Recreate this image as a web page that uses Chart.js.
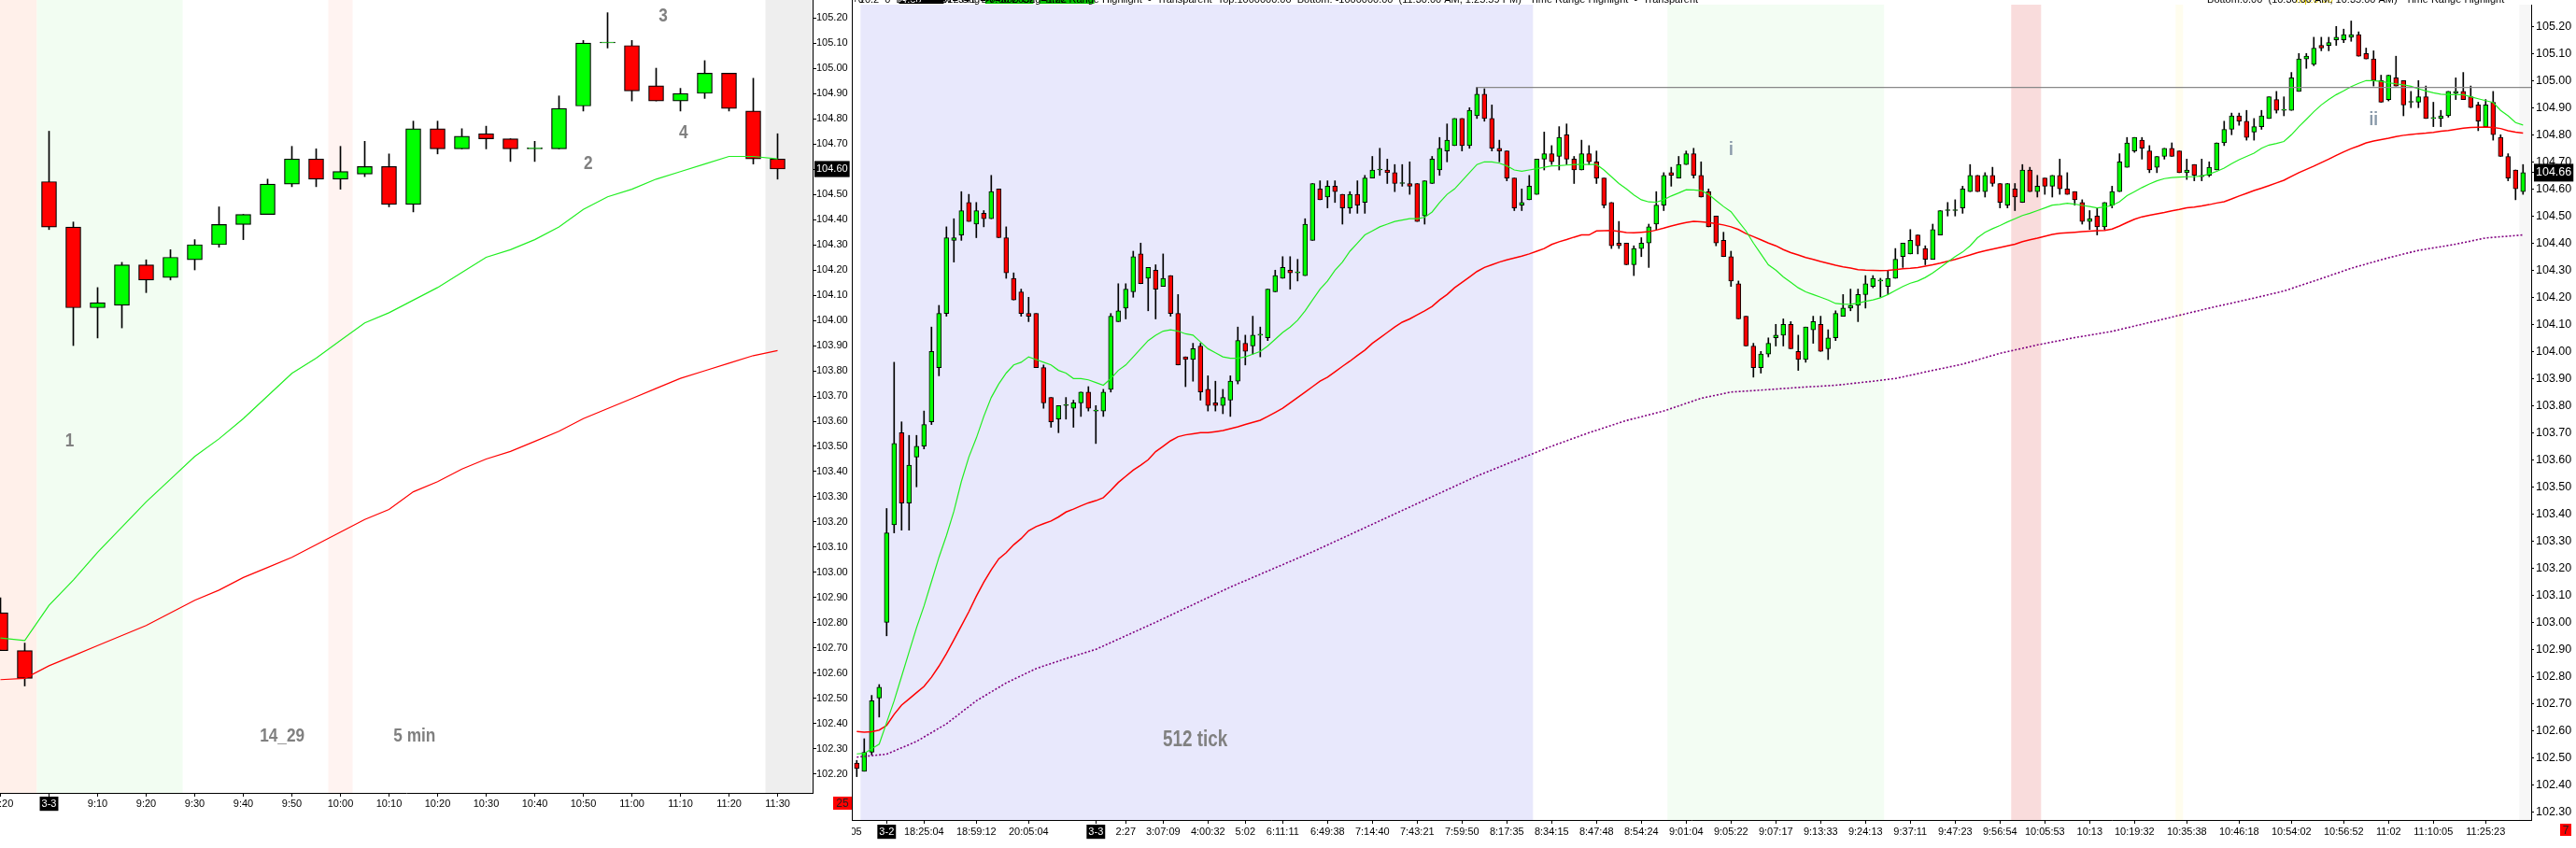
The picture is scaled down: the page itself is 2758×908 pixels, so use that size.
<!DOCTYPE html>
<html>
<head>
<meta charset="utf-8">
<title>5 min / 512 tick</title>
<script src="https://cdn.jsdelivr.net/npm/chart.js@4.4.1/dist/chart.umd.min.js"></script>
<style>
  html, body { margin: 0; padding: 0; background: #fff; overflow: hidden; }
  #wrap { position: relative; width: 2758px; height: 908px; }
  #leftBox { position: absolute; left: 0; top: 0; width: 912px; height: 908px; }
  #rightBox { position: absolute; left: 912px; top: 0; width: 1846px; height: 908px; background: #fff; }
</style>
</head>
<body>
<div id="wrap">
  <div id="leftBox"><canvas id="leftChart"></canvas></div>
  <div id="rightBox"><canvas id="rightChart"></canvas></div>
</div>
<script>
// ---------------- 5 min panel (left) ----------------
const leftOpen  = [102.84, 102.69, 104.55, 104.37, 104.05, 104.06, 104.22, 104.17, 104.24, 104.30, 104.38,
                   104.42, 104.54, 104.64, 104.56, 104.58, 104.61, 104.46, 104.76, 104.68, 104.74, 104.72,
                   104.68, 104.68, 104.85, 105.10, 105.09, 104.93, 104.87, 104.90, 104.98, 104.83, 104.64];
const leftHigh  = [102.90, 102.72, 104.75, 104.39, 104.13, 104.23, 104.24, 104.28, 104.32, 104.45, 104.42,
                   104.56, 104.69, 104.68, 104.69, 104.71, 104.66, 104.79, 104.79, 104.76, 104.77, 104.72,
                   104.71, 104.89, 105.11, 105.22, 105.11, 105.00, 104.92, 105.03, 104.98, 104.96, 104.74];
const leftLow   = [102.69, 102.55, 104.36, 103.90, 103.93, 103.97, 104.11, 104.16, 104.20, 104.29, 104.32,
                   104.42, 104.53, 104.53, 104.52, 104.57, 104.45, 104.43, 104.66, 104.68, 104.68, 104.63,
                   104.63, 104.68, 104.83, 105.08, 104.87, 104.87, 104.83, 104.88, 104.83, 104.62, 104.56];
const leftClose = [102.69, 102.58, 104.37, 104.05, 104.07, 104.22, 104.16, 104.25, 104.30, 104.38, 104.42,
                   104.54, 104.64, 104.56, 104.59, 104.61, 104.46, 104.76, 104.68, 104.73, 104.72, 104.68,
                   104.68, 104.84, 105.10, 105.10, 104.91, 104.87, 104.90, 104.98, 104.84, 104.64, 104.60];
const leftEmaFast = [102.74, 102.73, 102.87, 102.97, 103.08, 103.18, 103.28, 103.37, 103.46, 103.53, 103.61,
                     103.70, 103.79, 103.85, 103.92, 103.99, 104.03, 104.08, 104.13, 104.19, 104.25, 104.28,
                     104.32, 104.37, 104.44, 104.49, 104.52, 104.56, 104.59, 104.62, 104.65, 104.65, 104.64];
const leftEmaSlow = [102.575, 102.58, 102.63, 102.67, 102.71, 102.75, 102.79, 102.84, 102.89, 102.93, 102.98,
                     103.02, 103.06, 103.11, 103.16, 103.21, 103.25, 103.32, 103.36, 103.41, 103.45, 103.48,
                     103.52, 103.56, 103.61, 103.65, 103.69, 103.73, 103.77, 103.80, 103.83, 103.86, 103.88];
const leftTickBars   = [0, 2, 4, 6, 8, 10, 12, 14, 16, 18, 20, 22, 24, 26, 28, 30, 32];
const leftTickLabels = ['16:20', '3-3', '9:10', '9:20', '9:30', '9:40', '9:50', '10:00', '10:10',
                        '10:20', '10:30', '10:40', '10:50', '11:00', '11:10', '11:20', '11:30'];
const leftPriceTicks = [102.2, 102.3, 102.4, 102.5, 102.6, 102.7, 102.8, 102.9, 103.0, 103.1, 103.2,
                        103.3, 103.4, 103.5, 103.6, 103.7, 103.8, 103.9, 104.0, 104.1, 104.2, 104.3,
                        104.4, 104.5, 104.6, 104.7, 104.8, 104.9, 105.0, 105.1, 105.2];
const leftLast = 104.60;

// ---------------- 512 tick panel (right) ----------------
const rOpen = [
  102.48, 102.45, 102.52, 102.72, 103.00, 103.36, 103.70, 103.44, 103.61, 103.65,
  103.74, 103.94, 104.14, 104.41, 104.43, 104.55, 104.47, 104.51, 104.49, 104.60,
  104.42, 104.27, 104.22, 104.14, 104.14, 103.94, 103.83, 103.75, 103.80, 103.79,
  103.81, 103.85, 103.78, 103.78, 103.86, 104.11, 104.16, 104.22, 104.36, 104.27,
  104.30, 104.24, 104.28, 104.14, 103.98, 103.97, 104.02, 103.86, 103.81, 103.80,
  103.82, 103.89, 104.03, 104.02, 104.06, 104.05, 104.22, 104.27, 104.30, 104.29,
  104.28, 104.41, 104.60, 104.57, 104.61, 104.58, 104.53, 104.58, 104.55, 104.64,
  104.67, 104.67, 104.66, 104.62, 104.62, 104.62, 104.50, 104.62, 104.67, 104.74,
  104.76, 104.86, 104.76, 104.87, 104.95, 104.86, 104.75, 104.74, 104.64, 104.54,
  104.56, 104.58, 104.71, 104.73, 104.72, 104.80, 104.71, 104.67, 104.73, 104.70,
  104.64, 104.55, 104.40, 104.40, 104.32, 104.38, 104.40, 104.47, 104.54, 104.66,
  104.64, 104.69, 104.73, 104.65, 104.59, 104.50, 104.41, 104.35, 104.25, 104.13,
  104.02, 103.94, 103.99, 104.05, 104.06, 104.10, 104.00, 103.97, 104.08, 104.10,
  104.01, 104.05, 104.13, 104.16, 104.17, 104.21, 104.24, 104.26, 104.24, 104.27,
  104.35, 104.36, 104.43, 104.38, 104.34, 104.43, 104.52, 104.52, 104.53, 104.59,
  104.65, 104.59, 104.65, 104.62, 104.54, 104.60, 104.55, 104.67, 104.59, 104.64,
  104.61, 104.65, 104.60, 104.59, 104.55, 104.48, 104.50, 104.46, 104.54, 104.59,
  104.68, 104.74, 104.78, 104.74, 104.68, 104.72, 104.75, 104.74, 104.66, 104.69,
  104.645, 104.65, 104.67, 104.77, 104.82, 104.87, 104.85, 104.81, 104.83, 104.86,
  104.93, 104.89, 104.89, 104.96, 105.08, 105.06, 105.13, 105.13, 105.15, 105.15,
  105.16, 105.17, 105.10, 105.08, 105.00, 104.93, 105.01, 105.00, 104.92, 104.92,
  104.94, 104.86, 104.86, 104.87, 104.953, 104.96, 104.94, 104.91, 104.83, 104.92,
  104.79, 104.72, 104.67, 104.59];
const rHigh = [
  102.49, 102.57, 102.73, 102.77, 103.42, 103.96, 103.74, 103.69, 103.69, 103.78,
  104.09, 104.17, 104.46, 104.49, 104.59, 104.58, 104.55, 104.52, 104.65, 104.60,
  104.46, 104.29, 104.23, 104.20, 104.14, 103.95, 103.83, 103.80, 103.83, 103.82,
  103.85, 103.87, 103.80, 103.86, 104.14, 104.25, 104.25, 104.37, 104.40, 104.31,
  104.32, 104.36, 104.28, 104.21, 103.98, 104.03, 104.03, 103.91, 103.89, 103.86,
  103.91, 104.09, 104.06, 104.13, 104.09, 104.23, 104.30, 104.35, 104.35, 104.34,
  104.49, 104.62, 104.63, 104.63, 104.63, 104.58, 104.59, 104.63, 104.65, 104.72,
  104.75, 104.71, 104.69, 104.69, 104.70, 104.62, 104.63, 104.72, 104.79, 104.84,
  104.86, 104.86, 104.90, 104.975, 104.97, 104.91, 104.78, 104.74, 104.64, 104.60,
  104.65, 104.71, 104.81, 104.76, 104.83, 104.84, 104.72, 104.78, 104.76, 104.74,
  104.64, 104.55, 104.48, 104.40, 104.39, 104.42, 104.47, 104.59, 104.66, 104.68,
  104.72, 104.74, 104.75, 104.70, 104.60, 104.50, 104.44, 104.37, 104.26, 104.13,
  104.03, 104.00, 104.05, 104.10, 104.12, 104.11, 104.06, 104.09, 104.13, 104.13,
  104.08, 104.15, 104.21, 104.23, 104.23, 104.28, 104.28, 104.27, 104.30, 104.38,
  104.40, 104.45, 104.43, 104.39, 104.47, 104.52, 104.55, 104.56, 104.61, 104.69,
  104.65, 104.66, 104.68, 104.62, 104.62, 104.62, 104.69, 104.68, 104.65, 104.64,
  104.65, 104.71, 104.66, 104.59, 104.56, 104.52, 104.53, 104.55, 104.61, 104.73,
  104.79, 104.79, 104.79, 104.76, 104.72, 104.75, 104.77, 104.74, 104.71, 104.69,
  104.71, 104.70, 104.77, 104.85, 104.88, 104.88, 104.89, 104.86, 104.89, 104.94,
  104.96, 104.94, 105.03, 105.10, 105.10, 105.16, 105.16, 105.16, 105.20, 105.19,
  105.22, 105.18, 105.12, 105.11, 105.02, 105.02, 105.09, 105.00, 104.96, 105.00,
  104.98, 104.92, 104.89, 104.96, 105.01, 105.03, 104.98, 104.92, 104.93, 104.96,
  104.80, 104.73, 104.67, 104.69];
const rLow = [
  102.43, 102.45, 102.51, 102.65, 102.95, 103.33, 103.34, 103.34, 103.50, 103.64,
  103.73, 103.91, 104.13, 104.33, 104.41, 104.48, 104.42, 104.46, 104.49, 104.42,
  104.27, 104.19, 104.13, 104.11, 103.94, 103.79, 103.72, 103.70, 103.75, 103.72,
  103.76, 103.78, 103.66, 103.76, 103.85, 104.11, 104.12, 104.20, 104.25, 104.15,
  104.12, 104.24, 104.13, 103.95, 103.87, 103.89, 103.82, 103.78, 103.78, 103.77,
  103.76, 103.88, 103.95, 103.99, 103.98, 104.04, 104.22, 104.27, 104.23, 104.26,
  104.28, 104.41, 104.56, 104.53, 104.55, 104.47, 104.51, 104.51, 104.51, 104.64,
  104.65, 104.62, 104.59, 104.61, 104.58, 104.48, 104.47, 104.62, 104.65, 104.70,
  104.76, 104.74, 104.75, 104.86, 104.85, 104.74, 104.70, 104.63, 104.52, 104.52,
  104.56, 104.58, 104.67, 104.69, 104.67, 104.69, 104.62, 104.67, 104.69, 104.62,
  104.53, 104.38, 104.38, 104.32, 104.28, 104.35, 104.31, 104.45, 104.52, 104.61,
  104.64, 104.69, 104.64, 104.57, 104.46, 104.39, 104.35, 104.24, 104.12, 104.02,
  103.905, 103.92, 103.98, 104.02, 104.02, 104.01, 103.93, 103.96, 104.03, 104.00,
  103.97, 104.04, 104.13, 104.15, 104.11, 104.16, 104.235, 104.20, 104.21, 104.27,
  104.31, 104.36, 104.36, 104.32, 104.34, 104.43, 104.50, 104.50, 104.51, 104.59,
  104.59, 104.57, 104.61, 104.53, 104.53, 104.52, 104.55, 104.59, 104.57, 104.58,
  104.57, 104.58, 104.58, 104.54, 104.47, 104.45, 104.43, 104.45, 104.53, 104.59,
  104.68, 104.735, 104.71, 104.66, 104.66, 104.71, 104.72, 104.66, 104.635, 104.63,
  104.63, 104.645, 104.67, 104.76, 104.80, 104.835, 104.78, 104.78, 104.82, 104.86,
  104.88, 104.87, 104.89, 104.96, 105.045, 105.055, 105.11, 105.11, 105.13, 105.14,
  105.145, 105.09, 105.08, 104.98, 104.92, 104.925, 104.98, 104.87, 104.90, 104.90,
  104.86, 104.83, 104.83, 104.865, 104.93, 104.93, 104.90, 104.815, 104.83, 104.78,
  104.72, 104.63, 104.56, 104.58];
const rClose = [
  102.46, 102.52, 102.71, 102.76, 103.33, 103.66, 103.44, 103.58, 103.65, 103.73,
  104.00, 104.14, 104.42, 104.42, 104.52, 104.48, 104.52, 104.49, 104.59, 104.42,
  104.29, 104.19, 104.14, 104.13, 103.94, 103.81, 103.74, 103.80, 103.80, 103.81,
  103.85, 103.79, 103.78, 103.85, 104.13, 104.15, 104.23, 104.35, 104.25, 104.31,
  104.23, 104.27, 104.14, 103.95, 103.97, 104.01, 103.85, 103.80, 103.80, 103.83,
  103.89, 104.04, 104.00, 104.06, 104.06, 104.23, 104.28, 104.31, 104.29, 104.29,
  104.47, 104.62, 104.56, 104.61, 104.59, 104.53, 104.58, 104.54, 104.64, 104.67,
  104.67, 104.66, 104.62, 104.62, 104.61, 104.48, 104.63, 104.71, 104.75, 104.78,
  104.86, 104.76, 104.89, 104.95, 104.86, 104.75, 104.74, 104.64, 104.53, 104.55,
  104.61, 104.71, 104.73, 104.70, 104.79, 104.71, 104.67, 104.73, 104.70, 104.64,
  104.54, 104.39, 104.39, 104.32, 104.38, 104.40, 104.46, 104.54, 104.65, 104.65,
  104.69, 104.73, 104.65, 104.57, 104.46, 104.40, 104.35, 104.26, 104.12, 104.02,
  103.94, 103.99, 104.03, 104.06, 104.10, 104.01, 103.97, 104.09, 104.11, 104.00,
  104.05, 104.14, 104.16, 104.17, 104.21, 104.25, 104.27, 104.26, 104.27, 104.34,
  104.40, 104.41, 104.39, 104.34, 104.45, 104.52, 104.52, 104.52, 104.60, 104.65,
  104.59, 104.65, 104.62, 104.55, 104.62, 104.57, 104.67, 104.59, 104.61, 104.61,
  104.65, 104.60, 104.58, 104.56, 104.48, 104.49, 104.46, 104.55, 104.59, 104.70,
  104.77, 104.79, 104.75, 104.67, 104.72, 104.75, 104.72, 104.66, 104.67, 104.65,
  104.65, 104.68, 104.77, 104.82, 104.87, 104.85, 104.79, 104.83, 104.87, 104.94,
  104.89, 104.89, 105.01, 105.08, 105.09, 105.12, 105.12, 105.14, 105.16, 105.17,
  105.17, 105.09, 105.08, 105.00, 104.92, 105.02, 104.98, 104.91, 104.92, 104.94,
  104.86, 104.86, 104.87, 104.96, 104.96, 104.93, 104.90, 104.85, 104.91, 104.80,
  104.72, 104.64, 104.60, 104.66];
const rEmaFast = [
  102.514, 102.516, 102.533, 102.55, 102.63, 102.71, 102.80, 102.89, 102.98, 103.06,
  103.15, 103.24, 103.32, 103.41, 103.52, 103.61, 103.68, 103.76, 103.83, 103.88,
  103.92, 103.95, 103.96, 103.98, 103.97, 103.96, 103.95, 103.93, 103.92, 103.90,
  103.90, 103.895, 103.885, 103.875, 103.90, 103.93, 103.95, 103.98, 104.01, 104.04,
  104.06, 104.075, 104.08, 104.075, 104.065, 104.06, 104.035, 104.01, 103.995, 103.98,
  103.975, 103.975, 103.98, 103.99, 104.00, 104.02, 104.045, 104.07, 104.09, 104.115,
  104.15, 104.19, 104.23, 104.26, 104.30, 104.33, 104.37, 104.40, 104.43, 104.445,
  104.46, 104.47, 104.48, 104.485, 104.49, 104.49, 104.495, 104.515, 104.55, 104.58,
  104.60, 104.63, 104.66, 104.69, 104.70, 104.70, 104.695, 104.685, 104.67, 104.665,
  104.67, 104.675, 104.68, 104.685, 104.686, 104.688, 104.69, 104.69, 104.69, 104.69,
  104.67, 104.645, 104.62, 104.60, 104.578, 104.56, 104.552, 104.551, 104.56, 104.574,
  104.585, 104.597, 104.596, 104.594, 104.58, 104.557, 104.535, 104.516, 104.48, 104.445,
  104.40, 104.36, 104.32, 104.30, 104.275, 104.255, 104.235, 104.22, 104.21, 104.20,
  104.19, 104.177, 104.175, 104.174, 104.178, 104.185, 104.19, 104.198, 104.21, 104.225,
  104.24, 104.252, 104.26, 104.273, 104.29, 104.31, 104.33, 104.35, 104.367, 104.39,
  104.42, 104.44, 104.453, 104.465, 104.478, 104.49, 104.502, 104.51, 104.52, 104.53,
  104.54, 104.543, 104.547, 104.544, 104.539, 104.535, 104.53, 104.533, 104.539, 104.553,
  104.575, 104.59, 104.605, 104.618, 104.63, 104.638, 104.642, 104.644, 104.645, 104.645,
  104.648, 104.655, 104.665, 104.677, 104.693, 104.708, 104.72, 104.732, 104.75, 104.762,
  104.768, 104.775, 104.80, 104.83, 104.857, 104.885, 104.91, 104.93, 104.948, 104.962,
  104.978, 104.99, 105.00, 105.00, 104.997, 104.992, 104.988, 104.984, 104.979, 104.97,
  104.962, 104.955, 104.95, 104.948, 104.948, 104.948, 104.94, 104.933, 104.926, 104.919,
  104.89, 104.87, 104.845, 104.836];
const rEmaMid = [
  102.597, 102.594, 102.596, 102.602, 102.619, 102.66, 102.694, 102.717, 102.74, 102.763,
  102.797, 102.838, 102.884, 102.935, 102.987, 103.039, 103.096, 103.148, 103.194, 103.234,
  103.257, 103.286, 103.309, 103.338, 103.353, 103.364, 103.374, 103.389, 103.407, 103.418,
  103.43, 103.441, 103.449, 103.46, 103.487, 103.516, 103.539, 103.562, 103.58, 103.60,
  103.63, 103.65, 103.67, 103.685, 103.692, 103.696, 103.70, 103.70, 103.704, 103.708,
  103.715, 103.722, 103.73, 103.738, 103.746, 103.76, 103.775, 103.79, 103.81, 103.83,
  103.85, 103.87, 103.89, 103.905, 103.925, 103.945, 103.964, 103.985, 104.005, 104.03,
  104.05, 104.07, 104.09, 104.108, 104.12, 104.135, 104.15, 104.166, 104.19, 104.21,
  104.235, 104.255, 104.275, 104.295, 104.31, 104.32, 104.33, 104.338, 104.345, 104.352,
  104.36, 104.37, 104.38, 104.395, 104.405, 104.413, 104.422, 104.43, 104.43, 104.445,
  104.446, 104.447, 104.443, 104.439, 104.438, 104.44, 104.442, 104.448, 104.455, 104.463,
  104.47, 104.476, 104.48, 104.479, 104.476, 104.472, 104.467, 104.46, 104.45, 104.435,
  104.424, 104.412, 104.40, 104.39, 104.376, 104.365, 104.356, 104.347, 104.34, 104.332,
  104.325, 104.318, 104.312, 104.308, 104.302, 104.30, 104.299, 104.298, 104.299, 104.302,
  104.305, 104.307, 104.31, 104.315, 104.32, 104.326, 104.333, 104.34, 104.348, 104.356,
  104.365, 104.372, 104.378, 104.384, 104.39, 104.396, 104.405, 104.412, 104.418, 104.425,
  104.432, 104.436, 104.438, 104.44, 104.442, 104.444, 104.446, 104.447, 104.452, 104.463,
  104.476, 104.488, 104.497, 104.503, 104.508, 104.513, 104.519, 104.524, 104.53, 104.533,
  104.537, 104.542, 104.548, 104.553, 104.563, 104.574, 104.584, 104.594, 104.603, 104.612,
  104.622, 104.632, 104.646, 104.66, 104.672, 104.684, 104.697, 104.71, 104.724, 104.737,
  104.749, 104.759, 104.77, 104.777, 104.782, 104.787, 104.793, 104.798, 104.801, 104.804,
  104.806, 104.809, 104.813, 104.816, 104.82, 104.824, 104.827, 104.828, 104.829, 104.827,
  104.823, 104.815, 104.81, 104.806];
// slow average: read at the bars listed in rEmaSlowBars
const rEmaSlowBars = [0, 4, 8, 12, 16, 20, 24, 28, 32, 36, 40, 50, 61, 72, 83, 87, 93, 98, 103, 108, 113,
                      117, 122, 126, 131, 136, 139, 144, 148, 153, 158, 163, 168, 175, 181, 187, 191, 196,
                      200, 205, 209, 214, 218, 223];
const rEmaSlowVals = [102.502, 102.513, 102.56, 102.625, 102.71, 102.776, 102.829, 102.866, 102.90, 102.95,
                      103.00, 103.13, 103.26, 103.40, 103.54, 103.585, 103.65, 103.70, 103.745, 103.78, 103.827,
                      103.85, 103.859, 103.867, 103.875, 103.89, 103.90, 103.93, 103.953, 103.993, 104.024,
                      104.051, 104.074, 104.12, 104.16, 104.197, 104.223, 104.269, 104.307, 104.346, 104.373,
                      104.396, 104.419, 104.43];
const rTickBars   = [-2, 4, 9, 16, 23, 32, 36, 41, 47, 52, 57, 63, 69, 75, 81, 87, 93, 99, 105, 111, 117,
                     123, 129, 135, 141, 147, 153, 159, 165, 171, 178, 185, 192, 199, 205, 211, 218];
const rTickLabels = ['18:17:05', '3-2', '18:25:04', '18:59:12', '20:05:04', '3-3', '2:27', '3:07:09',
                     '4:00:32', '5:02', '6:11:11', '6:49:38', '7:14:40', '7:43:21', '7:59:50', '8:17:35',
                     '8:34:15', '8:47:48', '8:54:24', '9:01:04', '9:05:22', '9:07:17', '9:13:33', '9:24:13',
                     '9:37:11', '9:47:23', '9:56:54', '10:05:53', '10:13', '10:19:32', '10:35:38',
                     '10:46:18', '10:54:02', '10:56:52', '11:02', '11:10:05', '11:25:23'];
const rPriceTicks = [102.3, 102.4, 102.5, 102.6, 102.7, 102.8, 102.9, 103.0, 103.1, 103.2, 103.3, 103.4,
                     103.5, 103.6, 103.7, 103.8, 103.9, 104.0, 104.1, 104.2, 104.3, 104.4, 104.5, 104.6,
                     104.7, 104.8, 104.9, 105.0, 105.1, 105.2];
const rLast = 104.66;
const rHighLinePrice = 104.975;
const rHighLineFrom = 83;

// ---------------- helpers ----------------
function fontExists(name) {
  const c = document.createElement('canvas').getContext('2d');
  const probe = 'mmmmwwwwiiii0123456789:';
  c.font = '40px monospace';
  const a = c.measureText(probe).width;
  c.font = '40px "' + name + '", monospace';
  return c.measureText(probe).width !== a;
}
const HAS_NARROW = fontExists('Liberation Sans Narrow');
const SANS = '"Liberation Sans", Arial, sans-serif';
const NARROW = HAS_NARROW ? '"Liberation Sans Narrow", ' + SANS : SANS;
const NOTE_SX = HAS_NARROW ? 1 : 0.82;
const timeFont = HAS_NARROW ? { family: NARROW, size: 13 } : { family: SANS, size: 11 };

const UP = '#00ff00';
const DOWN = '#ff0000';

function candleSets(open, high, low, close, bodyWidth, bodyBorder) {
  return [
    {
      type: 'bar',
      data: open.map((o, i) => ({ x: i, y: [o, close[i]] })),
      backgroundColor: open.map((o, i) => close[i] >= o ? UP : DOWN),
      borderColor: '#000000',
      borderWidth: bodyBorder,
      borderSkipped: false,
      barThickness: bodyWidth,
      minBarLength: 1,
      grouped: false,
      order: 1
    },
    {
      type: 'bar',
      data: low.map((l, i) => ({ x: i, y: [l, high[i]] })),
      backgroundColor: '#000000',
      borderWidth: 0,
      barThickness: 1,
      grouped: false,
      order: 2
    }
  ];
}

function lineSet(xs, ys, color, width, dash) {
  return {
    type: 'line',
    data: ys.map((v, i) => ({ x: xs ? xs[i] : i, y: v })),
    borderColor: color,
    borderWidth: width,
    borderDash: dash || [],
    pointRadius: 0,
    tension: 0,
    fill: false,
    order: 0
  };
}

// shaded time ranges, behind everything
const bandsPlugin = {
  id: 'bands',
  beforeDraw(chart, args, opts) {
    const { ctx, chartArea: a, scales: { x } } = chart;
    ctx.save();
    (opts.items || []).forEach(b => {
      const x0 = Math.max(a.left, x.getPixelForValue(b.from));
      const x1 = Math.min(a.right, x.getPixelForValue(b.to));
      ctx.fillStyle = b.color;
      ctx.fillRect(x0, a.top, x1 - x0, a.bottom - a.top);
    });
    ctx.restore();
  }
};

// grey text marks placed in data units
const notesPlugin = {
  id: 'notes',
  afterDatasetsDraw(chart, args, opts) {
    const { ctx, scales: { x, y } } = chart;
    (opts.items || []).forEach(n => {
      ctx.save();
      ctx.font = 'bold ' + n.size + 'px ' + NARROW;
      ctx.fillStyle = n.color || '#808080';
      ctx.textAlign = 'center';
      ctx.textBaseline = 'middle';
      ctx.translate(x.getPixelForValue(n.x), y.getPixelForValue(n.y));
      ctx.scale(NOTE_SX, 1);
      ctx.fillText(n.text, 0, 0);
      ctx.restore();
    });
  }
};

// panel frame, header line and bar countdown box
const framePlugin = {
  id: 'frame',
  afterDraw(chart, args, opts) {
    const { ctx, chartArea: a } = chart;
    ctx.save();
    if (opts.leftBorder) {
      ctx.strokeStyle = '#000';
      ctx.lineWidth = 1;
      ctx.beginPath();
      ctx.moveTo(a.left + 0.5, 0);
      ctx.lineTo(a.left + 0.5, a.bottom);
      ctx.stroke();
    }
    if (opts.counter) {
      const c = opts.counter;
      const bx = a.right + c.dx, by = a.bottom + c.dy;
      ctx.fillStyle = '#ff0000';
      ctx.fillRect(bx, by, c.w, c.h);
      ctx.fillStyle = '#222';
      ctx.font = '12px ' + NARROW;
      ctx.textAlign = 'center';
      ctx.textBaseline = 'middle';
      ctx.fillText(c.text, bx + c.w / 2, by + c.h / 2 + 1);
    }
    if (opts.header) {
      ctx.font = '11px ' + SANS;
      ctx.textBaseline = 'alphabetic';
      let hx = a.left - ctx.measureText(opts.header.hidden).width;
      opts.header.parts.forEach(p => {
        const w = ctx.measureText(p.text).width;
        if (p.bg) {
          ctx.fillStyle = p.bg;
          ctx.fillRect(hx, -8, w, 12);
        }
        ctx.fillStyle = p.color || '#000';
        ctx.fillText(p.text, hx, 3);
        hx += w;
      });
    }
    ctx.restore();
  }
};

const blackBox = { x: 2, y: 2 };

// ---------------- left chart ----------------
const leftCtx = document.getElementById('leftChart').getContext('2d');
const leftChart = new Chart(leftCtx, {
  type: 'bar',
  data: {
    datasets: [
      lineSet(null, leftEmaFast, '#22ee22', 1.2),
      lineSet(null, leftEmaSlow, '#ff0000', 1.2),
      ...candleSets(leftOpen, leftHigh, leftLow, leftClose, 16, 1.2)
    ]
  },
  options: {
    responsive: true,
    maintainAspectRatio: false,
    animation: false,
    layout: { padding: 0, autoPadding: false },
    plugins: {
      legend: { display: false },
      tooltip: { enabled: false },
      bands: {
        items: [
          { from: -0.02, to: 1.5, color: '#fff0ea' },
          { from: 1.5, to: 7.5, color: '#f2fdf2' },
          { from: 13.5, to: 14.5, color: '#fff3f1' },
          { from: 31.5, to: 33.5, color: '#eeeeee' }
        ]
      },
      notes: {
        items: [
          { text: '1', x: 2.85, y: 103.52, size: 21 },
          { text: '2', x: 24.2, y: 104.62, size: 21 },
          { text: '3', x: 27.29, y: 105.205, size: 21 },
          { text: '4', x: 28.13, y: 104.744, size: 21 },
          { text: '14_29', x: 11.6, y: 102.352, size: 21 },
          { text: '5 min', x: 17.05, y: 102.352, size: 21 }
        ]
      },
      frame: { counter: { text: '25', dx: 22, dy: 4, w: 20, h: 14 } }
    },
    scales: {
      x: {
        type: 'linear',
        min: -0.0192,
        max: 33.442,
        offset: false,
        afterBuildTicks: s => { s.ticks = leftTickBars.map(v => ({ value: v })); },
        afterFit: s => { s.height = 59; s.paddingLeft = 0; s.paddingRight = 0; },
        grid: { drawOnChartArea: false, drawTicks: true, tickLength: 4, tickColor: '#000', offset: false },
        border: { display: true, color: '#000', width: 1 },
        ticks: {
          autoSkip: false,
          maxRotation: 0,
          padding: 1,
          font: timeFont,
          callback: (v, i) => leftTickLabels[i],
          color: c => leftTickLabels[c.index] === '3-3' ? '#fff' : '#000',
          showLabelBackdrop: c => leftTickLabels[c.index] === '3-3',
          backdropColor: '#000',
          backdropPadding: { x: 2, y: 1 }
        }
      },
      y: {
        type: 'linear',
        position: 'right',
        min: 102.1259,
        max: 105.2704,
        afterBuildTicks: s => { s.ticks = leftPriceTicks.map(v => ({ value: v })); },
        afterFit: s => { s.width = 42; s.paddingTop = 0; s.paddingBottom = 0; },
        grid: { drawOnChartArea: false, drawTicks: true, tickLength: 4, tickColor: '#000' },
        border: { display: true, color: '#000', width: 1 },
        ticks: {
          autoSkip: false,
          padding: 0,
          font: { family: SANS, size: 11 },
          callback: v => v.toFixed(2),
          color: c => Math.abs(c.tick.value - leftLast) < 1e-6 ? '#fff' : '#000',
          showLabelBackdrop: c => Math.abs(c.tick.value - leftLast) < 1e-6,
          backdropColor: '#000',
          backdropPadding: blackBox
        }
      }
    }
  },
  plugins: [bandsPlugin, notesPlugin, framePlugin]
});

// ---------------- right chart ----------------
const rXMin = -0.6625;
const rXMax = 224.0875;
const rightCtx = document.getElementById('rightChart').getContext('2d');
const rightChart = new Chart(rightCtx, {
  type: 'bar',
  data: {
    datasets: [
      lineSet([rHighLineFrom, rXMax], [rHighLinePrice, rHighLinePrice], '#888888', 1.3),
      lineSet(null, rEmaFast, '#22ee22', 1.2),
      lineSet(null, rEmaMid, '#ff0000', 1.5),
      lineSet(rEmaSlowBars, rEmaSlowVals, '#800080', 1.6, [2, 2]),
      ...candleSets(rOpen, rHigh, rLow, rClose, 5, 1)
    ]
  },
  options: {
    responsive: true,
    maintainAspectRatio: false,
    animation: false,
    layout: { padding: { top: 5, left: 0, right: 0, bottom: 0 }, autoPadding: false },
    plugins: {
      legend: { display: false },
      tooltip: { enabled: false },
      bands: {
        items: [
          { from: 0.5, to: 90.5, color: '#e8e8fc' },
          { from: 108.5, to: 137.5, color: '#f3fdf3' },
          { from: 154.5, to: 158.5, color: '#f9dcdc' },
          { from: 176.5, to: 177.5, color: '#fffdee' },
          { from: 222.5, to: 225, color: '#f7f7f7' }
        ]
      },
      notes: {
        items: [
          { text: '512 tick', x: 45.3, y: 102.563, size: 23 },
          { text: 'i', x: 117, y: 104.746, size: 21, color: '#8a9aaa' },
          { text: 'ii', x: 203, y: 104.855, size: 21, color: '#8a9aaa' }
        ]
      },
      frame: {
        leftBorder: true,
        counter: { text: '7', dx: 31, dy: 4, w: 12, h: 13 },
        header: {
          hidden: '51',
          parts: [
            { text: '512 tick  +0  ' },
            { text: 'C=104.66', bg: '#000', color: '#fff' },
            { text: '  V=512  ' },
            { text: 'Chg=-0.00', bg: '#00c000' },
            { text: '  ' },
            { text: 'D Chg=1.22', bg: '#00c000' },
            { text: '  2014-03-03 11:30:11  H=104.69  L=104.58  O=104.59  V=620  B=3213  A=3233  10.2  0  DV=270  AV=341  BV=332032   Time Range Highlight  -  Transparent  Top:1000000.00  Bottom: -1000000.00  (11:30:00 AM, 1:25:59 PM)   Time Range Highlight  -  Transparent  ' },
            { text: 'Top:0.00', color: '#e8d000' },
            { text: '  Bottom:0.00  (10:30:00 AM, 10:35:00 AM)   Time Range Highlight' }
          ]
        }
      }
    },
    scales: {
      x: {
        type: 'linear',
        min: rXMin,
        max: rXMax,
        offset: false,
        afterBuildTicks: s => { s.ticks = rTickBars.map(v => ({ value: v })); },
        afterFit: s => { s.height = 30; s.paddingLeft = 0; s.paddingRight = 0; },
        grid: { drawOnChartArea: false, drawTicks: true, tickLength: 4, tickColor: '#000', offset: false },
        border: { display: true, color: '#000', width: 1 },
        ticks: {
          autoSkip: false,
          maxRotation: 0,
          padding: 2,
          font: timeFont,
          callback: (v, i) => rTickLabels[i],
          color: c => /^3-\d$/.test(rTickLabels[c.index]) ? '#fff' : '#000',
          showLabelBackdrop: c => /^3-\d$/.test(rTickLabels[c.index]),
          backdropColor: '#000',
          backdropPadding: { x: 2, y: 1 }
        }
      },
      y: {
        type: 'linear',
        position: 'right',
        min: 102.270,
        max: 105.2803,
        afterBuildTicks: s => { s.ticks = rPriceTicks.concat([rLast]).map(v => ({ value: v })); },
        afterFit: s => { s.width = 48; s.paddingTop = 0; s.paddingBottom = 0; },
        grid: { drawOnChartArea: false, drawTicks: true, tickLength: 3, tickColor: '#000' },
        border: { display: true, color: '#000', width: 1 },
        ticks: {
          autoSkip: false,
          padding: 2,
          font: { family: SANS, size: 12.5 },
          callback: v => v.toFixed(2),
          color: c => Math.abs(c.tick.value - rLast) < 1e-6 ? '#fff' : '#000',
          showLabelBackdrop: c => Math.abs(c.tick.value - rLast) < 1e-6,
          backdropColor: '#000',
          backdropPadding: blackBox
        }
      }
    }
  },
  plugins: [bandsPlugin, notesPlugin, framePlugin]
});
</script>
</body>
</html>
